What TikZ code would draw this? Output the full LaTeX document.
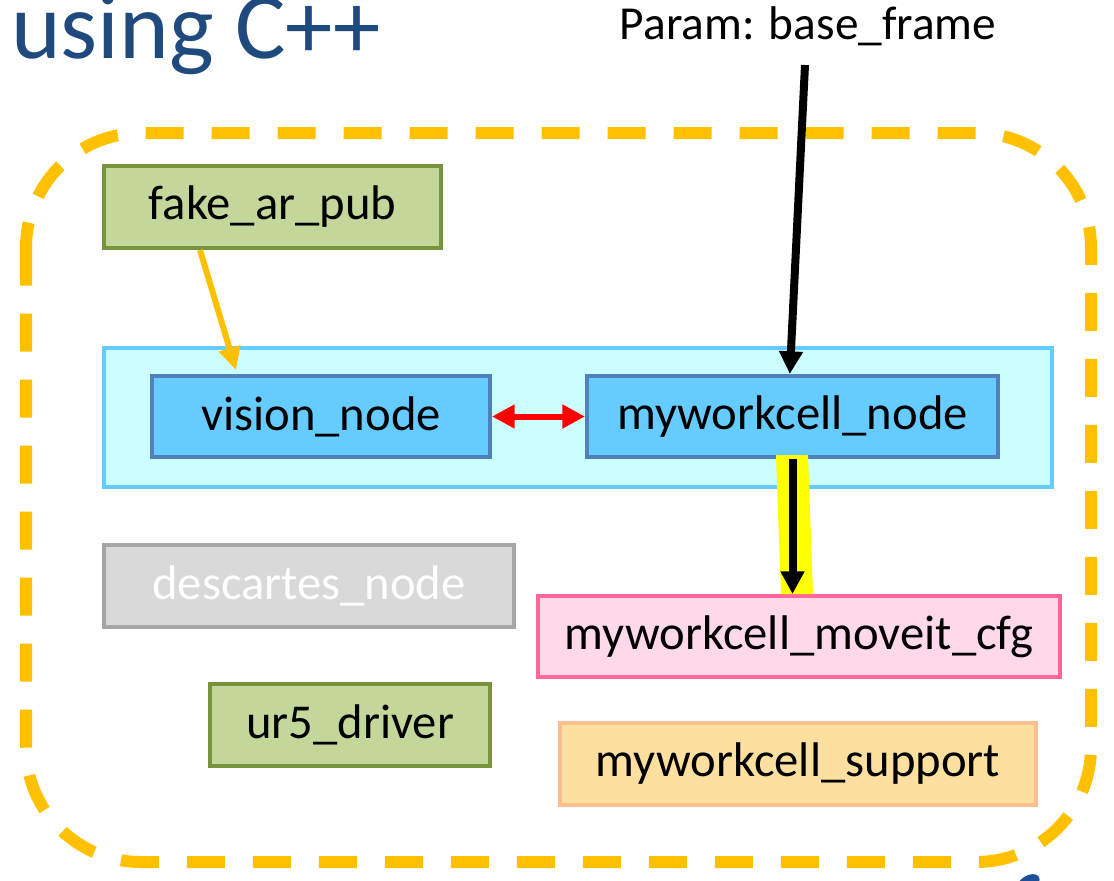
\documentclass[tikz,border=0pt]{standalone}
\usepackage{fontspec}
\setmainfont{Carlito}
\usetikzlibrary{arrows.meta}

\definecolor{dashyellow}{HTML}{FFC000}
\definecolor{titleblue}{HTML}{1F4A7E}
\definecolor{greenfill}{HTML}{C4D79B}
\definecolor{greenline}{HTML}{77933C}
\definecolor{cyanfill}{HTML}{CCFFFF}
\definecolor{cyanline}{HTML}{66CCFF}
\definecolor{nodefill}{HTML}{66CCFF}
\definecolor{nodeline}{HTML}{4F81BD}
\definecolor{greyfill}{HTML}{D9D9D9}
\definecolor{greyline}{HTML}{A6A6A6}
\definecolor{pinkfill}{HTML}{FFD9EA}
\definecolor{pinkline}{HTML}{FF6699}
\definecolor{orangefill}{HTML}{FDDFA0}
\definecolor{orangeline}{HTML}{FAC090}
\definecolor{hilite}{HTML}{FFFF00}
\definecolor{blobblue}{HTML}{1F4E99}

\begin{document}
\begin{tikzpicture}[x=0.75pt,y=-0.75pt]
\tikzstyle{every node}+=[inner sep=0pt]
\tikzstyle{pkg}=[draw, line width=3pt, font=\fontsize{36.5}{42}\selectfont]
\tikzstyle{boxsize}=[minimum width=#1*0.75pt]
\tikzstyle{green pkg}=[pkg, fill=greenfill, draw=greenline, minimum height=61.5pt]
\tikzstyle{blue pkg}=[pkg, fill=nodefill, draw=nodeline, minimum height=60.75pt]
\tikzstyle{link}=[line width=6pt, -{Triangle[length=17pt,width=17pt]}]

\useasboundingbox (0,0) rectangle (1114,881);

% workspace outline
\draw [dashyellow, line width=9pt, dash pattern=on 28.5pt off 21pt, rounded corners=86pt]
  (26,133) rectangle (1091,862);

% title
\node [anchor=base west, text=titleblue, font=\fontsize{71}{80}\selectfont] (title) at (11,59) {using C++};
\node [anchor=base, font=\fontsize{35.5}{40}\selectfont] (param) at (808,40) {Param: base\_frame};
\coordinate (ptop) at (805,65);

% packages
\node [draw=cyanline, fill=cyanfill, line width=2.5pt, minimum width=711pt, minimum height=104.25pt] (group) at (578,417.5) {};
\node [green pkg, boxsize=337] (fake) at (272.5,207) {fake\_ar\_pub};
\node [blue pkg, boxsize=338] (vision) at (321,416.5) {vision\_node};
\node [blue pkg, boxsize=411] (mwc) at (792.5,416.5) {myworkcell\_node};
\node [pkg, fill=greyfill, draw=greyline, text=white, boxsize=410, minimum height=61.5pt] (descartes) at (309,586) {descartes\_node};
\node [pkg, fill=pinkfill, draw=pinkline, boxsize=522, minimum height=60.75pt] (moveit) at (799,636.5) {myworkcell\_moveit\_cfg};
\node [green pkg, boxsize=280] (ur5) at (350,724.5) {ur5\_driver};
\node [pkg, fill=orangefill, draw=orangeline, boxsize=476, minimum height=61.5pt] (support) at (798,764) {myworkcell\_support};

% connections
\draw [dashyellow, line width=4.5pt, -{Triangle[length=17pt,width=16pt]}]
  ([xshift=73.5pt]fake.south west) -- ([xshift=64.5pt,yshift=3pt]vision.north west);
\draw [red, line width=4.5pt, {Triangle[length=17pt,width=17pt]}-{Triangle[length=17pt,width=17pt]}]
  (vision.east) -- (mwc.west);
\draw [link] (ptop) -- ([xshift=-2pt]mwc.north);
\fill [hilite] (776,455) -- (808,455) -- (813,594) -- (781,594) -- cycle;
\draw [link] (mwc.south) -- (mwc.south |- moveit.north);

% edge of next shape
\fill [blobblue, rotate around={35:(1028,884)}] (1028,884) ellipse [x radius=13, y radius=8];
\end{tikzpicture}
\end{document}
